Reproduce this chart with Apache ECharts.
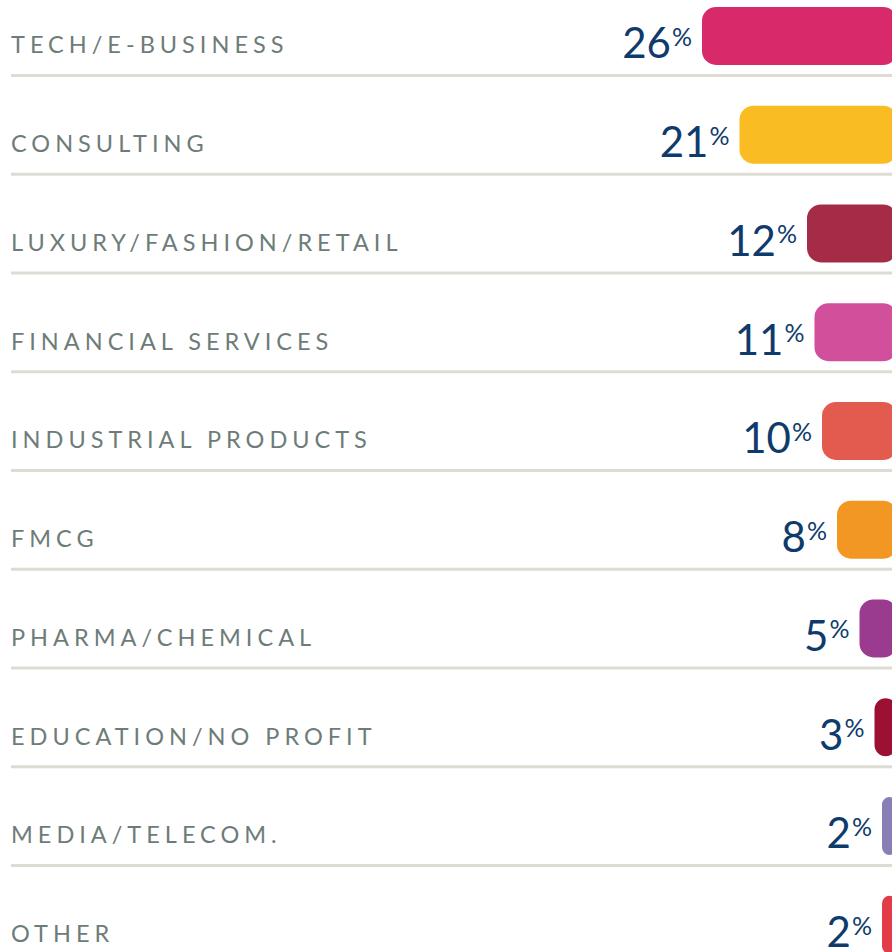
<!DOCTYPE html>
<html><head><meta charset="utf-8">
<style>html,body{margin:0;padding:0;background:#fff;}#c{width:892px;height:952px;}</style>
<script src="https://cdn.jsdelivr.net/npm/echarts@6/dist/echarts.min.js"></script>
</head><body><div id="c"></div>
<script>
const categories = ['TECH/E-BUSINESS','CONSULTING','LUXURY/FASHION/RETAIL','FINANCIAL SERVICES','INDUSTRIAL PRODUCTS','FMCG','PHARMA/CHEMICAL','EDUCATION/NO PROFIT','MEDIA/TELECOM.','OTHER'];
const values = [26,21,12,11,10,8,5,3,2,2];
const colors = ['#d82a6a','#f9bc22','#a52c46','#d24f9b','#e35b4f','#f29723','#9b3b8f','#9c1033','#8a7fb5','#e23b4a'];

const chart = echarts.init(document.getElementById('c'), null, {renderer:'svg'});
function spaceLabels(){
  document.querySelectorAll('#c text').forEach(t=>{
    if (categories.indexOf(t.textContent) >= 0) t.setAttribute('letter-spacing','5');
  });
}
chart.on('finished', spaceLabels);
chart.setOption({
  animation:false,
  grid:{left:0, right:-5, top:-13.4, height:987.5, outerBoundsMode:'none', containLabel:false},
  xAxis:{type:'value', min:0, max:119.6, inverse:true, show:false},
  yAxis:{type:'category', data:categories, inverse:true,
    axisLine:{show:false}, axisTick:{show:false}, splitLine:{show:false},
    axisLabel:{inside:true, margin:11, color:'#6e7c79', fontSize:23.5, fontFamily:'Lato', fontWeight:'normal', verticalAlign:'top', lineHeight:17}
  },
  series:[
    {type:'custom', silent:true, z:1,
     data: categories.slice(0, categories.length-1).map((c,i)=>[0,i]),
     renderItem:function(params, api){
       const cs = params.coordSys;
       const p = api.coord([0, api.value(1)]);
       const band = api.size([0,1])[1];
       const y = p[1] + band*0.4;
       return {type:'line', shape:{x1:cs.x+11, y1:y, x2:892, y2:y}, style:{stroke:'#dedbd5', lineWidth:3}};
     }
    },
    {type:'bar', z:2, barWidth:58,
     data: values.map((v,i)=>({value:v, itemStyle:{color:colors[i]}})),
     itemStyle:{borderRadius:14},
     label:{show:true, position:'left', distance:10, offset:[0,6.5],
       formatter:p=>'{v|'+p.value+'}{p|%}',
       rich:{
         v:{fontSize:42, fontFamily:'Lato', color:'#0f3b6c', lineHeight:38},
         p:{fontSize:25, fontFamily:'Lato', color:'#0f3b6c', verticalAlign:'top', lineHeight:24, padding:[0,0,14,1]}
       }
     }
    }
  ]
});
setTimeout(spaceLabels, 0);
</script></body></html>
